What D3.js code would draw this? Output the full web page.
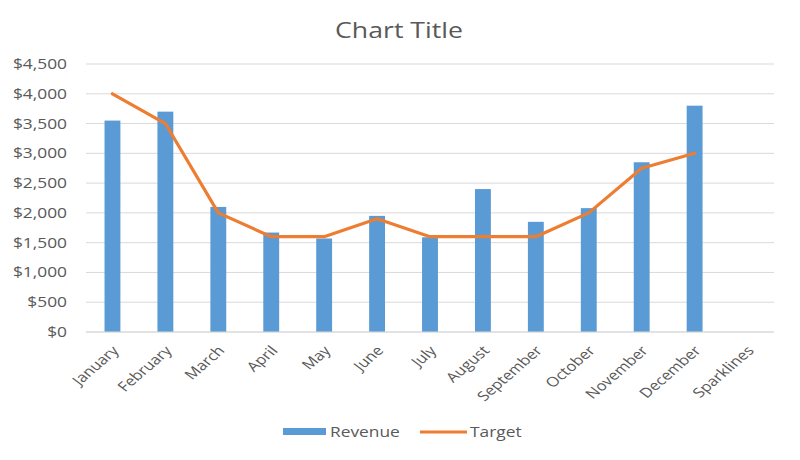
<!DOCTYPE html>
<html>
<head>
<meta charset="utf-8">
<script src="https://cdn.jsdelivr.net/npm/d3@7"></script>
<style>
  html, body { margin: 0; padding: 0; background: #fff; }
  svg { display: block; }
  text { font-family: "Open Sans", "Liberation Sans", sans-serif; fill: #595959; }
</style>
</head>
<body>
<svg id="chart" width="800" height="460"></svg>
<script>
const categories = ["January","February","March","April","May","June","July","August","September","October","November","December","Sparklines"];
const revenue = [3550, 3700, 2100, 1670, 1570, 1950, 1590, 2400, 1850, 2080, 2850, 3800, null];
const target  = [4000, 3500, 2000, 1600, 1600, 1900, 1600, 1600, 1600, 2000, 2750, 3000, null];
const yTicks = [0, 500, 1000, 1500, 2000, 2500, 3000, 3500, 4000, 4500];

const svg = d3.select("#chart");
const W = 800, H = 460;
const margin = { left: 86, right: 26, top: 64, bottom: 128 };
const SX = 1.24; // horizontal text stretch seen in the reference

const x = d3.scaleBand().domain(categories).range([margin.left, W - margin.right]).paddingInner(0.7).paddingOuter(0.35);
const y = d3.scaleLinear().domain([0, 4500]).range([H - margin.bottom, margin.top]);

// gridlines
svg.append("g").selectAll("line").data(yTicks).join("line")
  .attr("x1", margin.left).attr("x2", W - margin.right)
  .attr("y1", d => y(d)).attr("y2", d => y(d))
  .attr("stroke", "#d9d9d9").attr("stroke-width", 1);

// y labels
const fmt = d => "$" + d3.format(",")(d);
svg.append("g").selectAll("text").data(yTicks).join("text")
  .attr("transform", d => `translate(67,${y(d)}) scale(${SX},1)`)
  .attr("dy", "0.36em")
  .attr("text-anchor", "end").attr("font-size", 14)
  .text(fmt);

// bars
svg.append("g").selectAll("rect").data(categories.map((c, i) => ({ c, v: revenue[i] })).filter(d => d.v != null))
  .join("rect")
  .attr("x", d => x(d.c)).attr("width", x.bandwidth())
  .attr("y", d => y(d.v)).attr("height", d => y(0) - y(d.v))
  .attr("fill", "#5B9BD5");

// axis line
svg.append("line").attr("x1", margin.left).attr("x2", W - margin.right)
  .attr("y1", y(0)).attr("y2", y(0)).attr("stroke", "#d9d9d9");

// target line
const tdata = categories.map((c, i) => ({ c, v: target[i] })).filter(d => d.v != null);
svg.append("path").datum(tdata)
  .attr("fill", "none").attr("stroke", "#ED7D31").attr("stroke-width", 3.2)
  .attr("stroke-linejoin", "round").attr("stroke-linecap", "round")
  .attr("d", d3.line().x(d => x(d.c) + x.bandwidth() / 2).y(d => y(d.v)));

// x labels
svg.append("g").selectAll("text").data(categories).join("text")
  .attr("transform", d => `translate(${x(d) + x.bandwidth() / 2 + 3},${y(0) + 16}) scale(${SX},1) rotate(-47)`)
  .attr("text-anchor", "end").attr("dy", "0.35em").attr("font-size", 13.5)
  .text(d => d);

// title
svg.append("text").attr("transform", `translate(399,38) scale(${SX},1)`).attr("text-anchor", "middle")
  .attr("font-size", 21.5).text("Chart Title");

// legend
const lg = svg.append("g");
lg.append("rect").attr("x", 283).attr("y", 428).attr("width", 43).attr("height", 7).attr("fill", "#5B9BD5");
lg.append("text").attr("transform", `translate(330,432) scale(${SX},1)`).attr("dy", "0.36em").attr("font-size", 14).text("Revenue");
lg.append("line").attr("x1", 420).attr("x2", 467).attr("y1", 432).attr("y2", 432)
  .attr("stroke", "#ED7D31").attr("stroke-width", 3.2);
lg.append("text").attr("transform", `translate(470,432) scale(${SX},1)`).attr("dy", "0.36em").attr("font-size", 14).text("Target");
</script>
</body>
</html>
